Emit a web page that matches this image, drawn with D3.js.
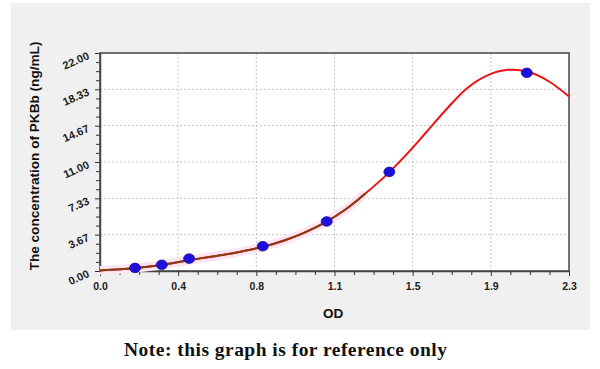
<!DOCTYPE html>
<html>
<head>
<meta charset="utf-8">
<script src="https://cdn.jsdelivr.net/npm/d3@7/dist/d3.min.js"></script>
<style>
  html, body { margin: 0; padding: 0; background: #ffffff; }
  svg { display: block; }
</style>
</head>
<body>
<svg id="chart" width="600" height="369"></svg>
<script>
// ---- data ----
const standardOD   = [0.172, 0.303, 0.437, 0.798, 1.112, 1.419, 2.093];
const standardConc = [0.312, 0.625, 1.25, 2.5, 5, 10, 20];

const curveOD   = [0, 0.1, 0.2, 0.3, 0.4, 0.5, 0.6, 0.7, 0.8, 0.9, 1.0, 1.1, 1.2, 1.3, 1.4, 1.5, 1.6, 1.7, 1.8, 1.9, 2.0, 2.1, 2.2, 2.3];
const curveConc = [0.05, 0.17, 0.35, 0.6, 0.95, 1.3, 1.62, 2.0, 2.45, 3.05, 3.85, 4.85, 6.15, 7.8, 9.6, 11.7, 14.0, 16.35, 18.45, 19.75, 20.3, 20.1, 19.15, 17.6];
const brownUntilOD = 1.3;

const xTickValues = [0, 0.38333, 0.76667, 1.15, 1.53333, 1.91667, 2.3];
const xTickLabels = ["0.0", "0.4", "0.8", "1.1", "1.5", "1.9", "2.3"];
const yTickValues = [0, 3.66667, 7.33333, 11, 14.66667, 18.33333, 22];
const yTickLabels = ["0.00", "3.67", "7.33", "11.00", "14.67", "18.33", "22.00"];

const xTitle = "OD";
const yTitle = "The concentration of PKBb (ng/mL)";
const noteText = "Note: this graph is for reference only";

// ---- layout ----
const svg = d3.select("#chart");
const plot = { left: 100, right: 569, top: 53, bottom: 271 };

svg.append("rect").attr("x", 11).attr("y", 3).attr("width", 579).attr("height", 327).attr("fill", "#f0f0f0");
svg.append("rect").attr("x", plot.left).attr("y", plot.top)
  .attr("width", plot.right - plot.left).attr("height", plot.bottom - plot.top).attr("fill", "#ffffff");

const x = d3.scaleLinear().domain([0, 2.3]).range([plot.left, plot.right]);
const y = d3.scaleLinear().domain([0, 22]).range([plot.bottom, plot.top]);

// grid
const grid = svg.append("g").attr("stroke", "#c4c4c4").attr("stroke-width", 1).attr("stroke-dasharray", "2,2");
xTickValues.slice(1, -1).forEach(v => {
  grid.append("line").attr("x1", x(v)).attr("x2", x(v)).attr("y1", plot.top).attr("y2", plot.bottom);
});
yTickValues.slice(1, -1).forEach(v => {
  grid.append("line").attr("y1", y(v)).attr("y2", y(v)).attr("x1", plot.left).attr("x2", plot.right);
});

// minor tick values
function minors(vals) {
  const out = [];
  for (let i = 0; i < vals.length - 1; i++) {
    const step = (vals[i + 1] - vals[i]) / 4;
    for (let k = 1; k < 4; k++) out.push(vals[i] + k * step);
  }
  return out;
}

// axes
const xAxis = svg.append("g").attr("transform", `translate(0,${plot.bottom})`)
  .call(d3.axisBottom(x).tickValues(xTickValues).tickFormat((d, i) => xTickLabels[i]).tickSizeInner(5).tickSizeOuter(0));
svg.append("g").attr("transform", `translate(0,${plot.bottom})`)
  .call(d3.axisBottom(x).tickValues(minors(xTickValues)).tickFormat("").tickSizeInner(4).tickSizeOuter(0))
  .select(".domain").remove();

const yAxis = svg.append("g").attr("transform", `translate(${plot.left},0)`)
  .call(d3.axisLeft(y).tickValues(yTickValues).tickFormat((d, i) => yTickLabels[i]).tickSizeInner(5).tickSizeOuter(0));
svg.append("g").attr("transform", `translate(${plot.left},0)`)
  .call(d3.axisLeft(y).tickValues(minors(yTickValues)).tickFormat("").tickSizeInner(4).tickSizeOuter(0))
  .select(".domain").remove();

svg.selectAll(".tick line").attr("stroke", "#333");
xAxis.selectAll("text").attr("font-family", "Liberation Sans, Arial, sans-serif")
  .attr("font-size", 10.5).attr("font-weight", "bold").attr("fill", "#222").attr("dy", "1.05em");
yAxis.selectAll("text").attr("font-family", "Liberation Sans, Arial, sans-serif")
  .attr("font-size", 11).attr("font-weight", "bold").attr("fill", "#222")
  .attr("x", null).attr("dy", null)
  .attr("transform", "translate(-10,5) rotate(-24)");

// frame
svg.append("rect").attr("x", plot.left).attr("y", plot.top)
  .attr("width", plot.right - plot.left).attr("height", plot.bottom - plot.top)
  .attr("fill", "none").attr("stroke", "#444").attr("stroke-width", 1.5);
svg.selectAll(".domain").attr("stroke", "#444").attr("stroke-width", 1.5);

// curve
const curvePts = curveOD.map((d, i) => [d, curveConc[i]]);
const line = d3.line().x(d => x(d[0])).y(d => y(d[1])).curve(d3.curveCatmullRom.alpha(0.5));
const lowPts = curvePts.filter(d => d[0] <= brownUntilOD);

svg.append("path").attr("d", line(lowPts)).attr("fill", "none")
  .attr("stroke", "#fde4f2").attr("stroke-width", 9).attr("stroke-linecap", "butt");
svg.append("path").attr("d", line(curvePts)).attr("fill", "none")
  .attr("stroke", "#ee1111").attr("stroke-width", 2);
svg.append("path").attr("d", line(lowPts)).attr("fill", "none")
  .attr("stroke", "#8b3c14").attr("stroke-width", 2);

// points
svg.append("g").selectAll("ellipse").data(standardOD).join("ellipse")
  .attr("cx", d => x(d)).attr("cy", (d, i) => y(standardConc[i]))
  .attr("rx", 5.5).attr("ry", 4.8)
  .attr("fill", "#1d10dc").attr("stroke", "#1a0f9a").attr("stroke-width", 0.8);

// titles
svg.append("text").attr("x", 333).attr("y", 318).attr("text-anchor", "middle")
  .attr("font-family", "Liberation Sans, Arial, sans-serif").attr("font-size", 13.5).attr("font-weight", "bold")
  .attr("fill", "#111").text(xTitle);
svg.append("text").attr("transform", "translate(39,156) rotate(-90)").attr("text-anchor", "middle")
  .attr("font-family", "Liberation Sans, Arial, sans-serif").attr("font-size", 13.6).attr("font-weight", "bold")
  .attr("fill", "#111").text(yTitle);

svg.append("text").attr("x", 124).attr("y", 356)
  .attr("font-family", "Liberation Serif, Times New Roman, serif").attr("font-size", 19.5).attr("font-weight", "bold")
  .attr("textLength", 323).attr("lengthAdjust", "spacing")
  .attr("fill", "#111").text(noteText);
</script>
</body>
</html>
